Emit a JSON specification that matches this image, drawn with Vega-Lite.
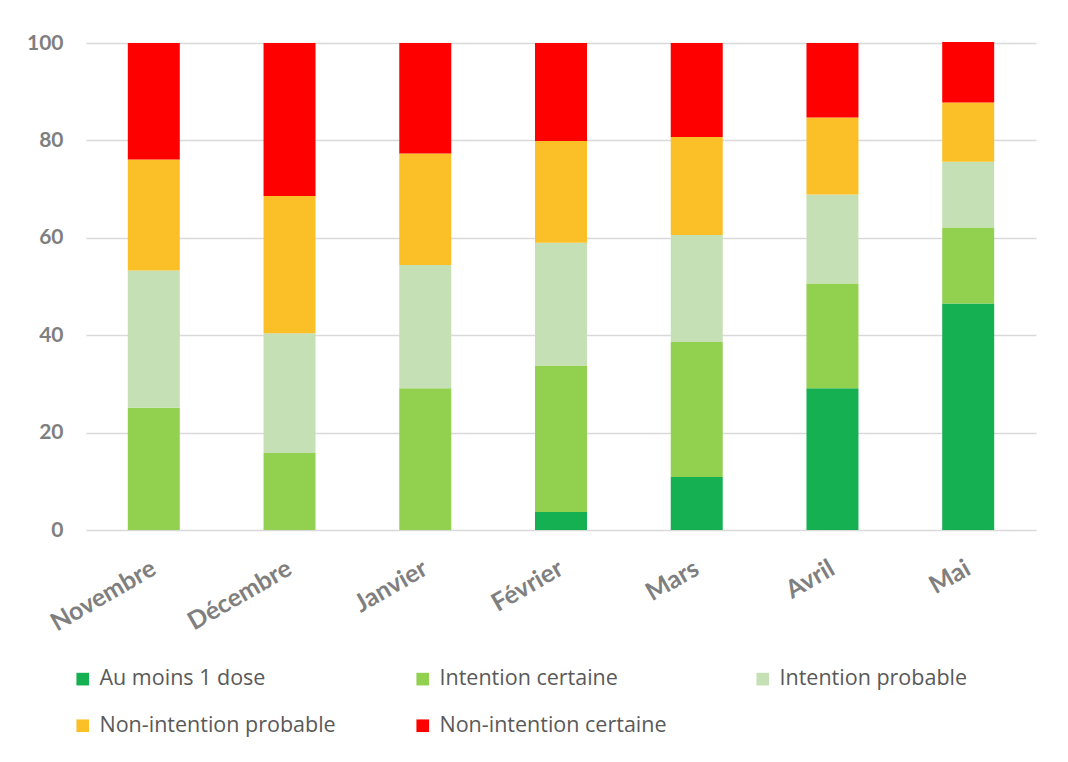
{
  "$schema": "https://vega.github.io/schema/vega-lite/v6.json",
  "width": 950,
  "height": 487,
  "autosize": {"type": "none"},
  "padding": {"left": 86, "top": 43, "right": 32, "bottom": 232},
  "background": "white",
  "config": {"view": {"stroke": null}, "font": "Lato"},
  "data": {
    "values": [
      {"mois": "Novembre", "serie": "Au moins 1 dose", "valeur": 0},
      {"mois": "Novembre", "serie": "Intention certaine", "valeur": 25.1},
      {"mois": "Novembre", "serie": "Intention probable", "valeur": 28.2},
      {"mois": "Novembre", "serie": "Non-intention probable", "valeur": 22.8},
      {"mois": "Novembre", "serie": "Non-intention certaine", "valeur": 23.9},
      {"mois": "Décembre", "serie": "Au moins 1 dose", "valeur": 0},
      {"mois": "Décembre", "serie": "Intention certaine", "valeur": 15.8},
      {"mois": "Décembre", "serie": "Intention probable", "valeur": 24.6},
      {"mois": "Décembre", "serie": "Non-intention probable", "valeur": 28.2},
      {"mois": "Décembre", "serie": "Non-intention certaine", "valeur": 31.4},
      {"mois": "Janvier", "serie": "Au moins 1 dose", "valeur": 0},
      {"mois": "Janvier", "serie": "Intention certaine", "valeur": 29.1},
      {"mois": "Janvier", "serie": "Intention probable", "valeur": 25.3},
      {"mois": "Janvier", "serie": "Non-intention probable", "valeur": 22.9},
      {"mois": "Janvier", "serie": "Non-intention certaine", "valeur": 22.7},
      {"mois": "Février", "serie": "Au moins 1 dose", "valeur": 3.7},
      {"mois": "Février", "serie": "Intention certaine", "valeur": 30.1},
      {"mois": "Février", "serie": "Intention probable", "valeur": 25.2},
      {"mois": "Février", "serie": "Non-intention probable", "valeur": 20.9},
      {"mois": "Février", "serie": "Non-intention certaine", "valeur": 20.1},
      {"mois": "Mars", "serie": "Au moins 1 dose", "valeur": 10.9},
      {"mois": "Mars", "serie": "Intention certaine", "valeur": 27.7},
      {"mois": "Mars", "serie": "Intention probable", "valeur": 22.0},
      {"mois": "Mars", "serie": "Non-intention probable", "valeur": 20.1},
      {"mois": "Mars", "serie": "Non-intention certaine", "valeur": 19.3},
      {"mois": "Avril", "serie": "Au moins 1 dose", "valeur": 29.1},
      {"mois": "Avril", "serie": "Intention certaine", "valeur": 21.5},
      {"mois": "Avril", "serie": "Intention probable", "valeur": 18.3},
      {"mois": "Avril", "serie": "Non-intention probable", "valeur": 15.8},
      {"mois": "Avril", "serie": "Non-intention certaine", "valeur": 15.3},
      {"mois": "Mai", "serie": "Au moins 1 dose", "valeur": 46.5},
      {"mois": "Mai", "serie": "Intention certaine", "valeur": 15.6},
      {"mois": "Mai", "serie": "Intention probable", "valeur": 13.5},
      {"mois": "Mai", "serie": "Non-intention probable", "valeur": 12.2},
      {"mois": "Mai", "serie": "Non-intention certaine", "valeur": 12.4}
    ]
  },
  "transform": [
    {"calculate": "indexof(['Au moins 1 dose','Intention certaine','Intention probable','Non-intention probable','Non-intention certaine'], datum.serie)", "as": "ord"}
  ],
  "mark": {"type": "bar"},
  "encoding": {
    "x": {
      "field": "mois",
      "type": "nominal",
      "sort": ["Novembre", "Décembre", "Janvier", "Février", "Mars", "Avril", "Mai"],
      "scale": {"paddingInner": 0.617, "paddingOuter": 0.308},
      "axis": {
        "title": null,
        "labelAngle": -30,
        "labelAlign": "right",
        "labelBaseline": "middle",
        "labelFontSize": 25,
        "labelFontWeight": "bold",
        "labelColor": "#7f7f7f",
        "domain": false,
        "ticks": false,
        "labelPadding": 36,
        "labelDx": 9
      }
    },
    "y": {
      "field": "valeur",
      "type": "quantitative",
      "stack": "zero",
      "scale": {"domain": [0, 100], "nice": false},
      "axis": {
        "title": null,
        "values": [0, 20, 40, 60, 80, 100],
        "grid": true,
        "gridColor": "#d9d9d9",
        "gridWidth": 1.5,
        "domain": false,
        "ticks": false,
        "labelPadding": 23,
        "labelFontSize": 21,
        "labelFontWeight": "bold",
        "labelColor": "#7f7f7f"
      }
    },
    "color": {
      "field": "serie",
      "type": "nominal",
      "scale": {
        "domain": ["Au moins 1 dose", "Intention certaine", "Intention probable", "Non-intention probable", "Non-intention certaine"],
        "range": ["#14b052", "#92d050", "#c5e0b4", "#fbbf27", "#ff0000"]
      },
      "legend": {
        "title": null,
        "orient": "none",
        "legendX": -14,
        "legendY": 625,
        "direction": "horizontal",
        "columns": 3,
        "gridAlign": "all",
        "columnPadding": 76,
        "rowPadding": 24,
        "symbolType": "square",
        "symbolSize": 160,
        "symbolStrokeWidth": 0,
        "labelFont": "Open Sans",
        "labelFontSize": 21.5,
        "labelColor": "#595959",
        "labelOffset": 6,
        "labelLimit": 400
      }
    },
    "order": {"field": "ord", "type": "quantitative"}
  }
}
